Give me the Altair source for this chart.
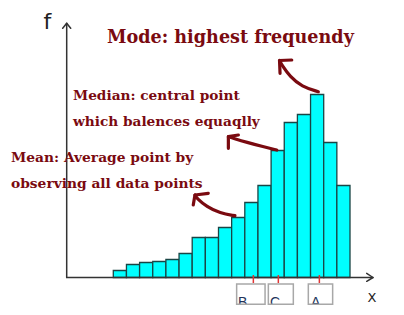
import altair as alt
import pandas as pd

# ---- data ----
freq = [0.7, 1.3, 1.5, 1.6, 1.8, 2.4, 4.0, 4.0, 5.0, 6.0, 7.5, 9.2, 12.7, 15.5, 16.3, 18.3, 13.5, 9.2]
bin_start = list(range(len(freq)))
marker_labels = ["B", "C", "A"]
marker_pos = [10.65, 12.55, 15.67]
title_mode = "Mode: highest frequendy"
median_lines = ["Median: central point", "which balences equaqlly"]
mean_lines = ["Mean: Average point by", "observing all data points"]

XS = alt.Scale(domain=[-8.616, 22.106], nice=False, zero=False)
YS = alt.Scale(domain=[-3.75, 27.75], nice=False, zero=False)
DARKRED = "#7a0a10"
AXIS = "#333333"


def X(f="x"):
    return alt.X(f"{f}:Q", scale=XS, axis=None)


def Y(f="y"):
    return alt.Y(f"{f}:Q", scale=YS, axis=None)


def line(xs, ys, color, width, interp="linear"):
    df = pd.DataFrame({"x": xs, "y": ys, "o": list(range(len(xs)))})
    return alt.Chart(df).mark_line(color=color, strokeWidth=width, interpolate=interp,
                                   strokeCap="round", strokeJoin="round").encode(
        x=X(), y=Y(), order="o:Q")


def texts(xs, ys, labels, **kw):
    df = pd.DataFrame({"x": xs, "y": ys, "t": labels})
    return alt.Chart(df).mark_text(align="left", baseline="alphabetic", **kw).encode(
        x=X(), y=Y(), text="t:N")


bars_df = pd.DataFrame({"x": bin_start, "x2": [b + 1 for b in bin_start], "y": [0] * len(freq), "y2": freq})
bars = alt.Chart(bars_df).mark_rect(fill="#00FFFF", stroke="#1a4545", strokeWidth=1.3).encode(
    x=X(), x2="x2:Q", y=Y(), y2="y2:Q")

# axes with arrows
y_axis = line([-3.544, -3.544], [0, 25.42], AXIS, 1.5)
y_head = line([-3.848, -3.544, -3.240], [24.92, 25.42, 24.92], AXIS, 1.5)
x_axis = line([-3.544, 19.75], [0, 0], AXIS, 1.5)
x_head = line([19.27, 19.75, 19.27], [0.42, 0, -0.38], AXIS, 1.5)

# red tick marks
ticks_df = pd.DataFrame({"x": marker_pos, "y": [0.25] * 3, "y2": [-0.55] * 3})
ticks = alt.Chart(ticks_df).mark_rule(color="#e03535", strokeWidth=1.5).encode(x=X(), y=Y(), y2="y2:Q")

# label boxes
box_df = pd.DataFrame({"x": [9.38, 11.79, 14.83], "x2": [11.54, 13.69, 16.68],
                       "y": [-0.65] * 3, "y2": [-2.68] * 3})
box_fill = alt.Chart(box_df).mark_rect(fill="white").encode(x=X(), x2="x2:Q", y=Y(), y2="y2:Q")
box_letters = texts([9.48, 11.91, 15.03], [-2.95] * 3, marker_labels,
                    font="Liberation Sans", fontSize=14, color="#22335a")
mask_df = pd.DataFrame({"x": [9.0], "x2": [17.0], "y": [-2.68], "y2": [-3.75]})
mask = alt.Chart(mask_df).mark_rect(fill="white").encode(x=X(), x2="x2:Q", y=Y(), y2="y2:Q")
box_stroke = alt.Chart(box_df).mark_rect(fill=None, stroke="#a8a8a8", strokeWidth=1.5).encode(
    x=X(), x2="x2:Q", y=Y(), y2="y2:Q")

# axis letters
f_lab = texts([-5.3], [24.9], ["f"], font="DejaVu Sans", fontSize=22, color="#222222")
x_lab = texts([19.33], [-2.42], ["X"], font="DejaVu Sans", fontSize=13, color="#222222")

# annotations
serif = dict(font="DejaVu Serif", fontWeight="bold", color=DARKRED)
t_mode = texts([-0.479], [23.45], [title_mode], fontSize=17.6, **serif)
t_median = texts([-3.065, -3.065], [17.75, 15.15], median_lines, fontSize=13.7, **serif)
t_mean = texts([-7.779, -7.779], [11.58, 8.98], mean_lines, fontSize=13.8, **serif)

a_mode = line([15.59, 14.33, 13.44, 12.81, 12.64], [18.58, 19.08, 20.08, 21.25, 21.70], DARKRED, 3.2, "basis")
h_mode = line([13.57, 12.64, 12.68], [21.75, 21.70, 20.42], DARKRED, 3.2)
a_median = line([12.43, 11.41, 10.14, 9.13, 8.75], [12.75, 13.08, 13.52, 13.92, 14.08], DARKRED, 3.2, "basis")
h_median = line([9.51, 8.75, 8.75], [14.25, 14.08, 12.92], DARKRED, 3.2)
a_mean = line([9.25, 8.11, 7.10, 6.34, 6.21], [6.18, 6.42, 7.08, 7.92, 8.25], DARKRED, 3.2, "basis")
h_mean = line([7.22, 6.21, 6.08], [8.42, 8.25, 7.25], DARKRED, 3.2)

chart = alt.layer(
    bars, y_axis, y_head, x_axis, x_head, ticks,
    box_fill, box_letters, mask, box_stroke,
    f_lab, x_lab, t_mode, t_median, t_mean,
    a_mode, h_mode, a_median, h_median, a_mean, h_mean,
).properties(
    width=404, height=315, padding=0, autosize=alt.AutoSizeParams(type="none"),
    background="white",
).configure_view(stroke=None)

chart.save("out.html", embed_options={"renderer": "svg", "actions": False})
